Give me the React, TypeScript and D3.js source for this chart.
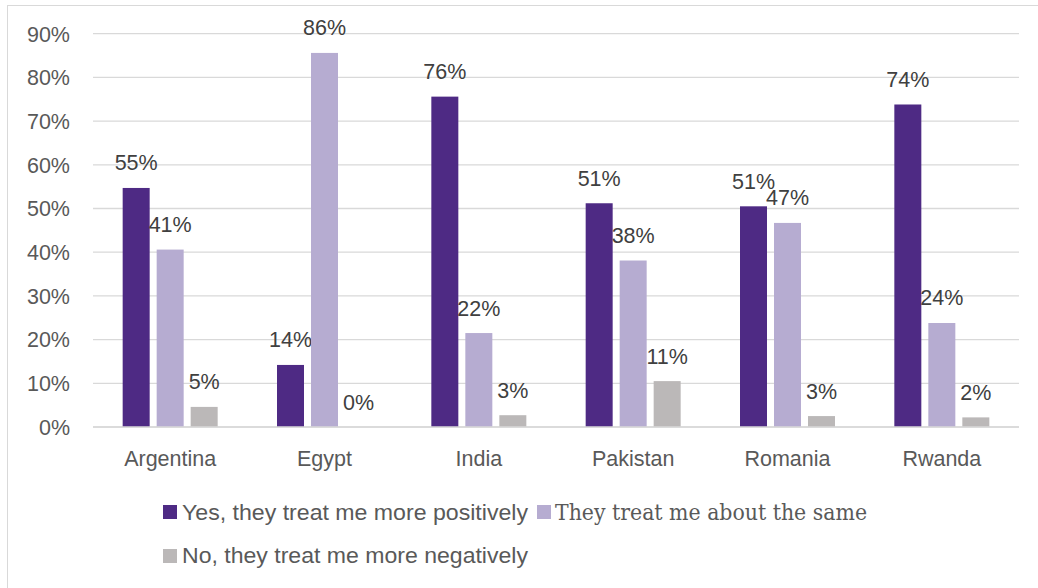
import React from "react";
import * as d3 from "d3";

const categories = ["Argentina", "Egypt", "India", "Pakistan", "Romania", "Rwanda"];
const seriesNames = [
  "Yes, they treat me more positively",
  "They treat me about the same",
  "No, they treat me more negatively",
];
const positive = [54.7, 14.2, 75.6, 51.2, 50.5, 73.8];
const same = [40.6, 85.6, 21.5, 38.1, 46.7, 23.8];
const negative = [4.6, 0, 2.7, 10.5, 2.5, 2.2];
const labelsPositive = ["55%", "14%", "76%", "51%", "51%", "74%"];
const labelsSame = ["41%", "86%", "22%", "38%", "47%", "24%"];
const labelsNegative = ["5%", "0%", "3%", "11%", "3%", "2%"];
const yTicks = [0, 10, 20, 30, 40, 50, 60, 70, 80, 90];

const colors = ["#4e2a84", "#b6acd1", "#bbb8b8"];

const W = 1038;
const H = 588;
const plotLeft = 93;
const plotRight = 1019;
const plotTop = 33.7;
const plotBottom = 427;

export default function App() {
  const values = [positive, same, negative];
  const labels = [labelsPositive, labelsSame, labelsNegative];
  const x0 = d3.scaleBand<string>().domain(categories).range([plotLeft, plotRight]);
  const bw = x0.bandwidth();
  const groupW = 95;
  const x1 = d3
    .scaleBand<string>()
    .domain(seriesNames)
    .range([(bw - groupW) / 2, (bw + groupW) / 2])
    .paddingInner(7 / 34);
  const y = d3.scaleLinear().domain([0, 90]).range([plotBottom, plotTop]);
  const font = "'Liberation Sans', Arial, sans-serif";
  const fs = 21.5;

  return (
    <svg
      width={W}
      height={H}
      style={{ position: "absolute", left: 0, top: 0, background: "#fff" }}
    >
      <rect x={7.5} y={5.5} width={W + 10} height={H + 10} fill="#fff" stroke="#d9d9d9" strokeWidth={1} />
      {yTicks.map((t) => (
        <g key={t}>
          <line x1={plotLeft} x2={plotRight} y1={y(t)} y2={y(t)} stroke="#d9d9d9" strokeWidth={1.3} />
          <text x={70} y={y(t) + 7.8} textAnchor="end" fontFamily={font} fontSize={fs} fill="#595959">
            {t + "%"}
          </text>
        </g>
      ))}
      {categories.map((c, i) => (
        <g key={c} transform={`translate(${x0(c)},0)`}>
          {seriesNames.map((s, j) => {
            const v = values[j][i];
            const bx = x1(s)!;
            return (
              <g key={s}>
                <rect x={bx} y={y(v)} width={x1.bandwidth()} height={plotBottom - y(v)} fill={colors[j]} />
                <text
                  x={bx + x1.bandwidth() / 2}
                  y={y(v) - 17.5}
                  textAnchor="middle"
                  fontFamily={font}
                  fontSize={fs}
                  fill="#404040"
                >
                  {labels[j][i]}
                </text>
              </g>
            );
          })}
          <text x={bw / 2} y={465.5} textAnchor="middle" fontFamily={font} fontSize={fs} fill="#595959">
            {c}
          </text>
        </g>
      ))}
      <line x1={plotLeft} x2={plotRight} y1={plotBottom} y2={plotBottom} stroke="#d9d9d9" strokeWidth={1.3} />
      {/* legend */}
      <rect x={163} y={505} width={14} height={14} fill={colors[0]} />
      <text x={182} y={519.5} fontFamily={font} fontSize={22} fill="#595959" textLength={346} lengthAdjust="spacingAndGlyphs">
        {seriesNames[0]}
      </text>
      <rect x={537} y={505} width={14} height={14} fill={colors[1]} />
      <text x={555} y={519.5} fontFamily="'DejaVu Serif', 'Liberation Serif', serif" fontSize={22} fill="#595959" textLength={312} lengthAdjust="spacingAndGlyphs">
        {seriesNames[1]}
      </text>
      <rect x={163} y={549} width={14} height={14} fill={colors[2]} />
      <text x={182} y={563} fontFamily={font} fontSize={22} fill="#595959" textLength={346} lengthAdjust="spacingAndGlyphs">
        {seriesNames[2]}
      </text>
    </svg>
  );
}
